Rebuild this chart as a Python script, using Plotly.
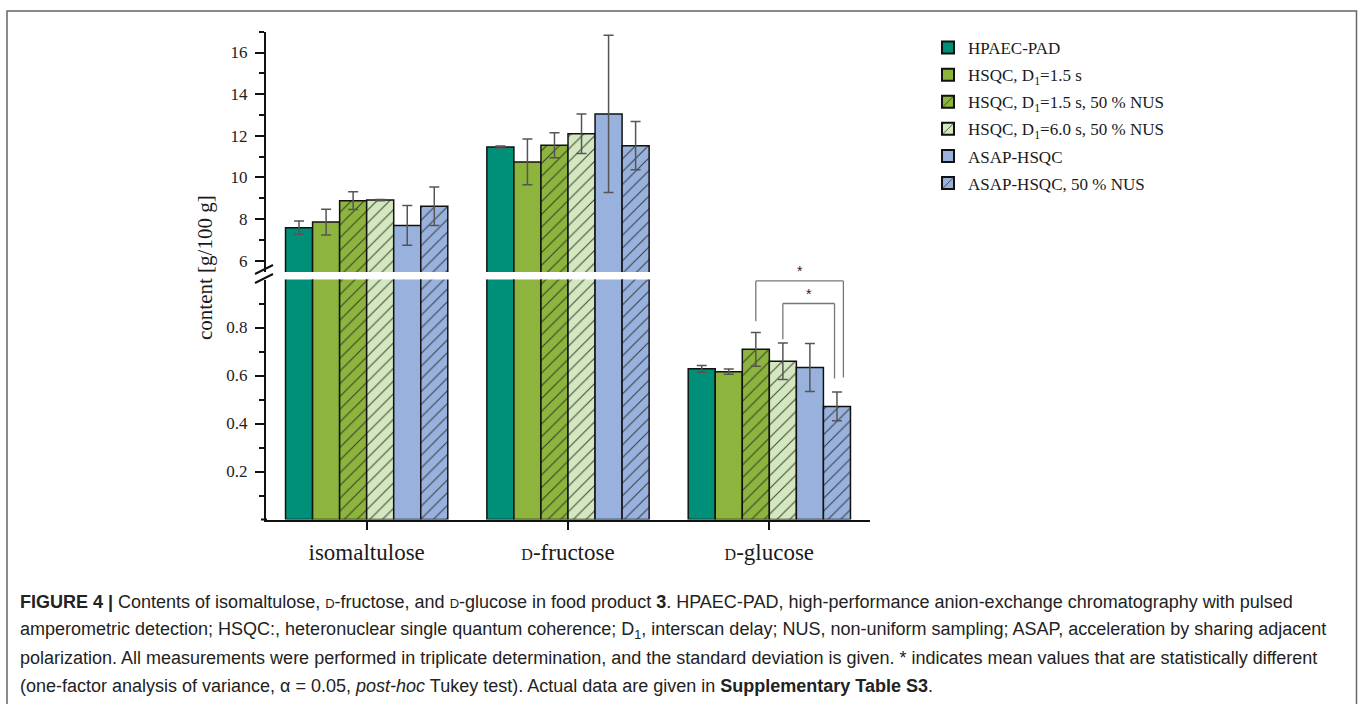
import plotly.graph_objects as go

W, H = 1360, 704

# ---------------- data ----------------
categories = ["isomaltulose",
              "<span style='font-size:16px'>D</span>-fructose",
              "<span style='font-size:16px'>D</span>-glucose"]

series_names = ["HPAEC-PAD",
                "HSQC, D<sub>1</sub>=1.5 s",
                "HSQC, D<sub>1</sub>=1.5 s, 50 % NUS",
                "HSQC, D<sub>1</sub>=6.0 s, 50 % NUS",
                "ASAP-HSQC",
                "ASAP-HSQC, 50 % NUS"]

hpaec_pad = [7.58, 11.46, 0.628]
hpaec_pad_sd = [0.32, 0.05, 0.014]
hsqc_15 = [7.85, 10.74, 0.616]
hsqc_15_sd = [0.62, 1.10, 0.011]
hsqc_15_nus = [8.88, 11.54, 0.709]
hsqc_15_nus_sd = [0.43, 0.60, 0.070]
hsqc_60_nus = [8.91, 12.09, 0.659]
hsqc_60_nus_sd = [0.03, 0.95, 0.076]
asap_hsqc = [7.69, 13.05, 0.633]
asap_hsqc_sd = [0.96, 3.78, 0.100]
asap_hsqc_nus = [8.61, 11.52, 0.471]
asap_hsqc_nus_sd = [0.93, 1.16, 0.060]

values = [hpaec_pad, hsqc_15, hsqc_15_nus, hsqc_60_nus, asap_hsqc, asap_hsqc_nus]
errors = [hpaec_pad_sd, hsqc_15_sd, hsqc_15_nus_sd, hsqc_60_nus_sd, asap_hsqc_sd, asap_hsqc_nus_sd]

colors = ["#00907a", "#8db43c", "#8db43c", "#d4e8bf", "#99b2dd", "#99b2dd"]
hatched = [False, False, True, True, False, True]

upper_ticks = [6, 8, 10, 12, 14, 16]
lower_ticks = [0.2, 0.4, 0.6, 0.8]

# significance: (bar index a, bar index b) in the D-glucose group
sig_pairs = [(2, 5), (3, 5)]

# ---------------- helpers ----------------
def px(x):
    return x / W

def py(y):
    return 1 - y / H

SERIF = "Liberation Serif, DejaVu Serif, serif"
SANS = "Liberation Sans, Arial, sans-serif"

fig = go.Figure()

for i, (name, vals, errs) in enumerate(zip(series_names, values, errors)):
    pattern = dict(shape="/", fgcolor="#2a2a2a", fgopacity=0.85, size=9, solidity=0.12) if hatched[i] else dict(shape="")
    for xa, ya, show in (("x", "y", False), ("x2", "y2", True)):
        fig.add_trace(go.Bar(
            x=categories, y=vals, name=name, xaxis=xa, yaxis=ya,
            showlegend=show, legendgroup=f"g{i}",
            marker=dict(color=colors[i], line=dict(color="#111111", width=1.5), pattern=pattern),
            error_y=dict(type="data", array=errs, color="#555555", thickness=1.5, width=5),
        ))

axis_common = dict(showline=True, linecolor="#111111", linewidth=2, mirror=False,
                   showgrid=False, zeroline=False, ticks="outside", tickcolor="#111111",
                   tickwidth=1.5, tickfont=dict(family=SERIF, size=17, color="#222222"))

fig.update_layout(
    width=W, height=H,
    margin=dict(l=0, r=0, t=0, b=0),
    paper_bgcolor="white", plot_bgcolor="rgba(0,0,0,0)",
    barmode="group", bargap=0.194, bargroupgap=0,
    xaxis=dict(domain=[px(266), px(870)], anchor="y", type="category", range=[-0.5, 2.5],
               showline=True, linecolor="#111111", linewidth=2, showgrid=False, zeroline=False,
               ticks="outside", ticklen=8, tickwidth=1.5, tickcolor="#111111",
               ticklabelstandoff=3,
               tickfont=dict(family=SERIF, size=23, color="#1a1a1a")),
    xaxis2=dict(domain=[px(266), px(870)], anchor="y2", matches="x", visible=False,
                type="category", range=[-0.5, 2.5]),
    yaxis=dict(domain=[py(519.5), py(279.5)], anchor="x", range=[0, 1.0],
               tickmode="array", tickvals=lower_ticks, ticklen=9, ticklabelstandoff=4,
               minor=dict(tickvals=[0.1, 0.3, 0.5, 0.7, 0.9], ticks="outside", ticklen=5,
                          tickwidth=1.5, tickcolor="#111111"),
               **axis_common),
    yaxis2=dict(domain=[py(272), py(31.7)], anchor="x2", range=[5.45, 17.0],
                tickmode="array", tickvals=upper_ticks, ticklen=9, ticklabelstandoff=4,
                minor=dict(tickvals=[7, 9, 11, 13, 15, 17], ticks="outside", ticklen=5,
                           tickwidth=1.5, tickcolor="#111111"),
                **axis_common),
    legend=dict(x=px(928), y=py(30), xanchor="left", yanchor="top",
                font=dict(family=SERIF, size=17, color="#1a1a1a"),
                tracegroupgap=2, bgcolor="rgba(0,0,0,0)", itemsizing="constant"),
)

shapes = []
# figure frame
shapes.append(dict(type="rect", xref="paper", yref="paper", x0=px(7), x1=px(1356.5),
                   y0=py(712), y1=py(11), line=dict(color="#666666", width=1.5)))
# axis break marks
for dy in (0, 9):
    shapes.append(dict(type="line", xref="paper", yref="paper",
                       x0=px(255), y0=py(274 + dy), x1=px(273), y1=py(265 + dy),
                       line=dict(color="#111111", width=2)))
# x axis small extension to the left
shapes.append(dict(type="line", xref="paper", yref="paper", x0=px(261), x1=px(267),
                   y0=py(519.5), y1=py(519.5), line=dict(color="#111111", width=2)))

# significance brackets (D-glucose group, index 2)
n = len(series_names)
bw = (1 - 0.194) / n
def bar_x(cat, k):
    return cat + (k - (n - 1) / 2) * bw

brackets = [
    # (left leg bottom, top, right leg bottom, right x offset)
    (0.826, 0.994, 0.592, 0.032),
    (0.751, 0.900, 0.588, -0.012),
]
annotations = []
for (a, b), (lb, top, rb, roff) in zip(sig_pairs, brackets):
    xl = bar_x(2, a)
    xr = bar_x(2, b) + roff
    for x0, y0, x1, y1 in ((xl, lb, xl, top), (xl, top, xr, top), (xr, top, xr, rb)):
        shapes.append(dict(type="line", xref="x", yref="y", x0=x0, y0=y0, x1=x1, y1=y1,
                           line=dict(color="#777777", width=1.3)))
    annotations.append(dict(x=(xl + xr) / 2, y=top, xref="x", yref="y", text="*",
                            showarrow=False, yanchor="bottom", yshift=0,
                            font=dict(family=SANS, size=14, color="#222222")))

# y axis title
annotations.append(dict(x=px(205), y=py(268), xref="paper", yref="paper",
                        xanchor="center", yanchor="middle",
                        text="content [g/100 g]", textangle=-90, showarrow=False,
                        font=dict(family=SERIF, size=21, color="#1a1a1a")))

# caption
cap_lines = [
    "<b>FIGURE 4 |</b> Contents of isomaltulose, <span style='font-size:13px'>D</span>-fructose, and "
    "<span style='font-size:13px'>D</span>-glucose in food product <b>3</b>. HPAEC-PAD, high-performance "
    "anion-exchange chromatography with pulsed",
    "amperometric detection; HSQC:, heteronuclear single quantum coherence; D<sub>1</sub>, interscan delay; "
    "NUS, non-uniform sampling; ASAP, acceleration by sharing adjacent",
    "polarization. All measurements were performed in triplicate determination, and the standard deviation "
    "is given. * indicates mean values that are statistically different",
    "(one-factor analysis of variance, α = 0.05, <i>post-hoc</i> Tukey test). Actual data are given in "
    "<b>Supplementary Table S3</b>.",
]
for k, line in enumerate(cap_lines):
    annotations.append(dict(x=px(18), y=py(602 + 28 * k), xref="paper", yref="paper",
                            xanchor="left", yanchor="middle", text=line, showarrow=False,
                            align="left", font=dict(family=SANS, size=18, color="#222222")))

fig.update_layout(shapes=shapes, annotations=annotations)

fig.write_html("out.html")
